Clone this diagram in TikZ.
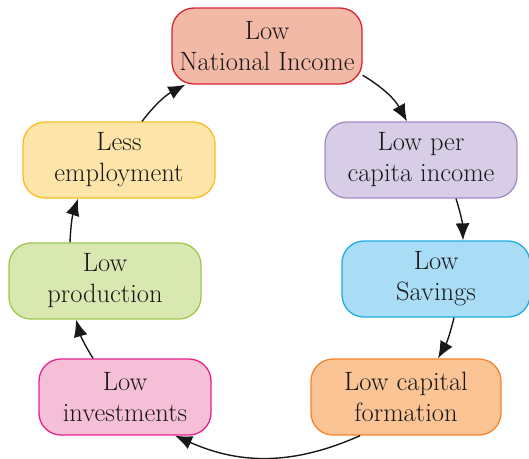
\documentclass[tikz,border=0pt]{standalone}
\usetikzlibrary{arrows.meta}

\definecolor{incfill}{HTML}{F2B9A7}
\definecolor{incdraw}{HTML}{D7262F}
\definecolor{capfill}{HTML}{D8CDE6}
\definecolor{capdraw}{HTML}{A68CC4}
\definecolor{savfill}{HTML}{A9DDF6}
\definecolor{savdraw}{HTML}{1BAEE5}
\definecolor{frmfill}{HTML}{FAC494}
\definecolor{frmdraw}{HTML}{F5852B}
\definecolor{invfill}{HTML}{F6BFD8}
\definecolor{invdraw}{HTML}{E6228B}
\definecolor{prdfill}{HTML}{D9E8B1}
\definecolor{prddraw}{HTML}{9DC84B}
\definecolor{empfill}{HTML}{FDE5A9}
\definecolor{empdraw}{HTML}{F8BE23}
\definecolor{txt}{HTML}{1A1718}

\begin{document}
\begin{tikzpicture}[x=1pt, y=1pt,
    cyclebox/.style={draw, line width=1.3pt, rounded corners=22pt, align=center,
        minimum height=76pt, inner sep=2pt, text=txt,
        font=\fontsize{26.5}{31}\selectfont},
    link/.style={line width=1.4pt, draw=txt, -{Latex[length=17pt,width=14pt]}}]
    % Frame
    \useasboundingbox (0,0) rectangle (529,-458);

    % Boxes of the cycle
    \node[cyclebox, fill=incfill, draw=incdraw, minimum width=190pt] (income) at (267,-46) {Low\\National Income};
    \node[cyclebox, fill=capfill, draw=capdraw, minimum width=192pt] (percapita) at (421,-160) {Low per\\capita income};
    \node[cyclebox, fill=savfill, draw=savdraw, minimum width=188pt] (savings) at (436,-279) {Low\\Savings};
    \node[cyclebox, fill=frmfill, draw=frmdraw, minimum width=190pt] (formation) at (406,-397) {Low capital\\formation};
    \node[cyclebox, fill=invfill, draw=invdraw, minimum width=172pt] (invest) at (125,-397) {Low\\investments};
    \node[cyclebox, fill=prdfill, draw=prddraw, minimum width=192pt] (production) at (105,-281) {Low\\production};
    \node[cyclebox, fill=empfill, draw=empdraw, minimum width=192pt] (employ) at (119,-160) {Less\\employment};

    % Arrows round the cycle
    \draw[link] (income.-17) to[bend left=15] ([xshift=-14pt]percapita.north);
    \draw[link] ([xshift=35pt]percapita.south) to[bend left=8] ([xshift=27pt]savings.north);
    \draw[link] ([xshift=18pt]savings.south) to[bend left=8] ([xshift=32pt]formation.north);
    \draw[link] ([xshift=-46pt]formation.south) to[bend left=24] ([xshift=50pt]invest.south);
    \draw[link] ([xshift=-32pt]invest.north) to[bend left=8] ([xshift=-29pt]production.south);
    \draw[link] ([xshift=-35pt]production.north) to[bend left=8] ([xshift=-41pt]employ.south);
    \draw[link] ([xshift=23pt]employ.north) to[bend left=12] ([xshift=14pt]income.south west);

\end{tikzpicture}
\end{document}
